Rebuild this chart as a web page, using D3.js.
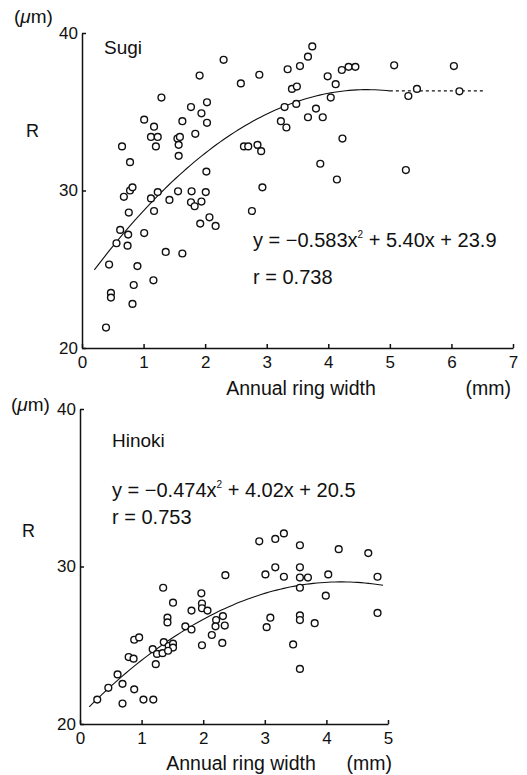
<!DOCTYPE html>
<html><head><meta charset="utf-8">
<script src="https://cdn.jsdelivr.net/npm/d3@7"></script>
<style>
body{margin:0;background:#fff;}
svg text{font-family:"Liberation Sans",Arial,Helvetica,sans-serif;fill:#111;}
</style></head>
<body>
<svg id="c" width="527" height="775"></svg>
<script>
// ---- Sugi data (annual ring width mm, R µm) ----
const sugiX = [0.39,0.47,0.47,0.44,0.56,0.62,0.74,0.75,0.84,0.82,0.90,0.76,0.68,0.65,0.78,0.78,0.82,1.01,1.01,1.12,
 1.23,1.17,1.16,1.36,1.42,1.56,1.78,1.77,1.83,1.94,2.01,2.07,1.92,2.17,1.63,2.02,1.17,1.29,1.12,1.23,
 1.20,1.55,1.59,1.57,1.57,1.63,1.77,1.84,1.91,1.94,2.03,2.03,2.30,2.58,2.88,2.63,2.70,2.85,2.91,2.93,
 2.76,3.23,3.29,3.32,3.34,3.41,3.49,3.48,3.54,3.67,3.74,3.67,3.80,3.91,3.87,3.99,4.12,4.04,4.23,4.14,
 4.22,4.33,4.44,5.07,5.30,5.44,5.26,6.04,6.13];
const sugiR = [21.3,23.5,23.2,25.3,26.65,27.5,26.5,27.2,24.0,22.8,25.2,28.6,29.6,32.8,31.8,30.0,30.2,27.3,34.5,29.5,
 29.9,28.7,24.3,26.1,29.4,29.95,29.95,29.25,29.0,29.3,29.9,28.3,27.9,27.75,26.0,31.2,34.05,35.9,33.4,33.4,
 32.8,33.3,33.4,32.9,32.2,34.4,35.3,33.6,37.3,34.9,35.6,34.3,38.3,36.8,37.35,32.8,32.8,32.9,32.5,30.2,
 28.7,34.4,35.3,34.0,37.7,36.45,36.6,35.5,37.9,38.5,39.15,34.65,35.2,34.65,31.7,37.25,36.75,35.9,33.3,30.7,
 37.65,37.85,37.85,37.95,36.0,36.45,31.3,37.9,36.3];
// ---- Hinoki data ----
const hinokiX = [0.28,0.46,0.61,0.69,0.69,0.88,1.03,1.19,0.79,0.87,0.88,0.96,1.18,1.23,1.25,1.36,1.44,1.51,1.51,1.34,
 1.43,1.35,1.51,1.42,1.42,1.71,1.81,1.81,1.97,1.98,1.98,2.07,1.98,2.14,2.21,2.20,2.32,2.35,2.31,2.36,
 3.01,3.03,3.09,2.91,3.17,3.31,3.57,4.20,4.68,3.17,3.31,3.57,3.57,3.70,4.03,4.83,3.57,3.99,4.83,3.57,
 3.57,3.81,3.46,3.57];
const hinokiR = [21.55,22.3,23.15,22.55,21.3,22.2,21.55,21.55,24.25,24.15,25.35,25.5,24.75,23.8,24.45,25.2,24.95,25.1,24.85,24.5,
 24.65,28.65,27.7,26.75,26.45,26.2,27.2,26.0,28.3,27.65,27.35,27.2,25.0,25.65,26.6,26.2,26.85,26.25,25.15,29.45,
 29.5,26.15,26.75,31.6,31.75,32.1,31.35,31.1,30.85,29.95,29.35,29.95,29.3,29.3,29.5,29.35,28.65,28.15,27.05,26.9,
 26.6,26.4,25.05,23.5];
// regression coefficients [a,b,c] for y = a x^2 + b x + c
const sugiCoef = [-0.583, 5.40, 23.9];
const hinokiCoef = [-0.474, 4.02, 20.5];
const sugiXTicks = [0,1,2,3,4,5,6,7];
const hinokiXTicks = [0,1,2,3,4,5];
const yTicks = [20,30,40];

const svg = d3.select("#c");

function panel(o){
  const g = svg.append("g");
  const x = d3.scaleLinear().domain(o.xDomain).range(o.xRange);
  const y = d3.scaleLinear().domain([20,40]).range(o.yRange);
  const xa = g.append("g").attr("transform",`translate(0,${o.yRange[0]})`)
    .call(d3.axisBottom(x).tickValues(o.xTicks).tickSizeInner(-4).tickSizeOuter(0).tickPadding(8).tickFormat(d3.format("d")));
  const ya = g.append("g").attr("transform",`translate(${o.xRange[0]},0)`)
    .call(d3.axisLeft(y).tickValues(yTicks).tickSizeInner(-4).tickSizeOuter(0).tickPadding(4).tickFormat(d3.format("d")));
  [xa,ya].forEach(a=>{
    a.selectAll("path,line").attr("stroke","#111").attr("stroke-width",1.5);
    a.selectAll("text").attr("font-size",17).attr("font-family","Liberation Sans,Arial,sans-serif").attr("fill","#111");
  });
  // curve
  const f = xv => o.coef[0]*xv*xv + o.coef[1]*xv + o.coef[2];
  const pts = d3.range(o.curve[0], o.curve[1]+1e-9, (o.curve[1]-o.curve[0])/80).map(v=>[v,f(v)]);
  g.append("path").attr("d", d3.line().x(d=>x(d[0])).y(d=>y(d[1]))(pts))
    .attr("fill","none").attr("stroke","#111").attr("stroke-width",1.1);
  if(o.dash){
    const yv = f(o.curve[1]);
    g.append("path").attr("d", d3.line().x(d=>x(d[0])).y(d=>y(d[1]))([[o.curve[1],yv],[o.dash,yv]]))
      .attr("fill","none").attr("stroke","#111").attr("stroke-width",1.1).attr("stroke-dasharray","3,3");
  }
  // points
  g.selectAll("circle.p").data(o.xs.map((v,i)=>[v,o.ys[i]])).enter().append("circle")
    .attr("cx",d=>x(d[0])).attr("cy",d=>y(d[1])).attr("r",3.4)
    .attr("fill","#fff").attr("stroke","#111").attr("stroke-width",1.4);
  // labels
  const um = g.append("text").attr("x",o.um[0]).attr("y",o.um[1]).attr("font-size",19);
  um.append("tspan").text("(");
  um.append("tspan").attr("font-style","italic").text("μ");
  um.append("tspan").text("m)");
  g.append("text").attr("x",o.R[0]).attr("y",o.R[1]).attr("font-size",18).text("R");
  g.append("text").attr("x",o.name[0]).attr("y",o.name[1]).attr("font-size",19).text(o.nameText);
  const eq = g.append("text").attr("x",o.eq[0]).attr("y",o.eq[1]).attr("font-size",20);
  eq.append("tspan").text(o.eqA);
  eq.append("tspan").attr("font-size",10).attr("dy",-9).text("2");
  eq.append("tspan").attr("dy",9).text(o.eqB);
  g.append("text").attr("x",o.eq[0]).attr("y",o.r[1]).attr("font-size",20).text(o.rText);
  g.append("text").attr("x",o.xl[0]).attr("y",o.xl[1]).attr("font-size",19.5).attr("text-anchor","middle").text("Annual ring width");
  g.append("text").attr("x",o.mm[0]).attr("y",o.mm[1]).attr("font-size",19.5).attr("text-anchor","end").text("(mm)");
}

panel({xDomain:[0,7], xRange:[82,513], yRange:[348,33], xTicks:sugiXTicks, coef:sugiCoef,
  curve:[0.2,5.0], dash:6.55, xs:sugiX, ys:sugiR,
  um:[14,23], R:[26,137], name:[104,54], nameText:"Sugi",
  eq:[253,247], eqA:"y = −0.583x", eqB:" + 5.40x + 23.9", r:[253,284], rText:"r = 0.738",
  xl:[301,395], mm:[511,395]});
panel({xDomain:[0,5], xRange:[80,388], yRange:[724,409], xTicks:hinokiXTicks, coef:hinokiCoef,
  curve:[0.15,4.92], dash:null, xs:hinokiX, ys:hinokiR,
  um:[11,411], R:[22,537], name:[112,447], nameText:"Hinoki",
  eq:[112,497], eqA:"y = −0.474x", eqB:" + 4.02x + 20.5", r:[112,524], rText:"r = 0.753",
  xl:[241,770], mm:[392,770]});
</script>
</body></html>
